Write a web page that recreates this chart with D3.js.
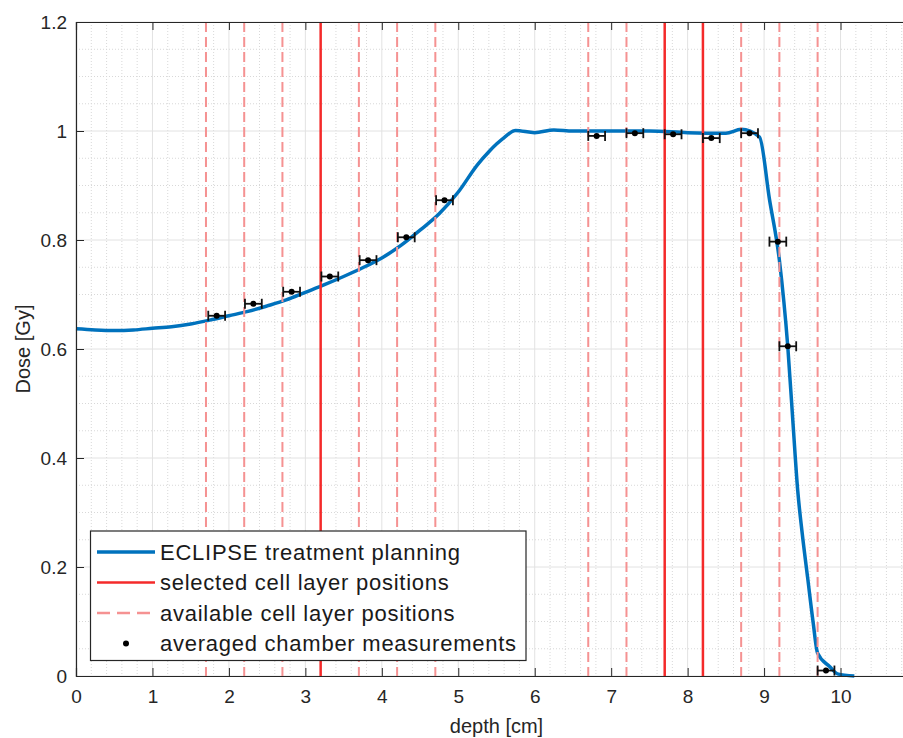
<!DOCTYPE html>
<html>
<head>
<meta charset="utf-8">
<script src="https://cdn.jsdelivr.net/npm/d3@7"></script>
<style>
  html, body { margin: 0; padding: 0; background: #fff; }
  svg { display: block; font-family: "Liberation Sans", Arial, Helvetica, sans-serif; }
</style>
</head>
<body>
<div id="chart"></div>
<script>
// ECLIPSE depth dose curve (depth in cm, dose in Gy)
const curveDepth = [0, 0.25, 0.5, 0.75, 1.0, 1.25, 1.5, 1.75, 2.0, 2.25, 2.5, 2.75, 3.0, 3.25, 3.5, 3.75,
  4.0, 4.25, 4.5, 4.75, 5.0, 5.25, 5.4, 5.5, 5.6, 5.75, 6.0, 6.25, 6.5, 7.0, 7.5, 8.0, 8.5, 8.7, 8.94,
  9.07, 9.2, 9.31, 9.38, 9.44, 9.5, 9.57, 9.64, 9.7, 9.86, 9.96, 10.18];
const curveDose = [0.637, 0.635, 0.634, 0.635, 0.638, 0.641, 0.646, 0.653, 0.661, 0.669, 0.679, 0.690,
  0.704, 0.718, 0.733, 0.749, 0.767, 0.790, 0.818, 0.848, 0.888, 0.938, 0.962, 0.976, 0.988, 1.001,
  0.997, 1.002, 1.0, 1.0, 1.0, 0.997, 0.996, 1.003, 0.989, 0.875, 0.763, 0.604, 0.46, 0.34, 0.26,
  0.18, 0.10, 0.042, 0.017, 0.004, 0.0];

// cell layer positions
const selectedLayers = [3.2, 7.7, 8.2];
const availableLayers = [1.7, 2.2, 2.7, 3.7, 4.2, 4.7, 6.7, 7.2, 8.7, 9.2, 9.7];

// averaged chamber measurements, horizontal error +-measErr
const measDepth = [1.84, 2.32, 2.82, 3.32, 3.82, 4.32, 4.82, 6.81, 7.31, 7.81, 8.31, 8.81, 9.18, 9.31, 9.81];
const measDose = [0.661, 0.683, 0.705, 0.733, 0.763, 0.805, 0.873, 0.991, 0.996, 0.994, 0.987, 0.996, 0.797, 0.605, 0.01];
const measErr = 0.11;

const xTicks = [0, 1, 2, 3, 4, 5, 6, 7, 8, 9, 10];
const yTicks = [0, 0.2, 0.4, 0.6, 0.8, 1, 1.2];

const legendLabels = ["ECLIPSE treatment planning", "selected cell layer positions",
  "available cell layer positions", "averaged chamber measurements"];

const w = 903;
const h = 738;
const pLeft = 76, pTop = 22, pRight = 917, pBottom = 676;
const axisColor = "#262626";
const blue = "#0072BD";
const red = "#f42a2a";
const lightRed = "#f59292";

const x = d3.scaleLinear().domain([0, 11]).range([pLeft, pRight]);
const y = d3.scaleLinear().domain([0, 1.2]).range([pBottom, pTop]);

const svg = d3.select("#chart").append("svg").attr("width", w).attr("height", h);

// grid: minor dotted, major solid
const xMinor = d3.range(0, 11.001, 0.2).filter((v) => Math.abs(v - Math.round(v)) > 1e-6);
const yMinor = d3.range(0, 1.2001, 0.05).filter((v) => Math.abs(v * 5 - Math.round(v * 5)) > 1e-6);

const grid = svg.append("g");
grid.selectAll(".xminor").data(xMinor).enter().append("line")
  .attr("x1", (d) => x(d)).attr("x2", (d) => x(d)).attr("y1", pTop).attr("y2", pBottom)
  .attr("stroke", "#d8d8d8").attr("stroke-width", 1).attr("stroke-dasharray", "1,2");
grid.selectAll(".yminor").data(yMinor).enter().append("line")
  .attr("x1", pLeft).attr("x2", pRight).attr("y1", (d) => y(d)).attr("y2", (d) => y(d))
  .attr("stroke", "#d8d8d8").attr("stroke-width", 1).attr("stroke-dasharray", "1,2");
grid.selectAll(".xmajor").data(xTicks.concat([11])).enter().append("line")
  .attr("x1", (d) => x(d)).attr("x2", (d) => x(d)).attr("y1", pTop).attr("y2", pBottom)
  .attr("stroke", "#e2e2e2").attr("stroke-width", 1);
grid.selectAll(".ymajor").data(yTicks).enter().append("line")
  .attr("x1", pLeft).attr("x2", pRight).attr("y1", (d) => y(d)).attr("y2", (d) => y(d))
  .attr("stroke", "#e2e2e2").attr("stroke-width", 1);

// dose curve
const line = d3.line().x((d) => x(d)).y((d, i) => y(curveDose[i])).curve(d3.curveMonotoneX);
svg.append("path")
  .datum(curveDepth)
  .attr("d", line)
  .attr("fill", "none")
  .attr("stroke", blue)
  .attr("stroke-width", 3.5)
  .attr("stroke-linejoin", "round");

// cell layer lines
svg.selectAll(".avail").data(availableLayers).enter().append("line")
  .attr("x1", (d) => x(d)).attr("x2", (d) => x(d)).attr("y1", y(1.2)).attr("y2", y(0))
  .attr("stroke", lightRed).attr("stroke-width", 2).attr("stroke-dasharray", "10,5");
svg.selectAll(".sel").data(selectedLayers).enter().append("line")
  .attr("x1", (d) => x(d)).attr("x2", (d) => x(d)).attr("y1", y(1.2)).attr("y2", y(0))
  .attr("stroke", red).attr("stroke-width", 2.5);

// measurements with horizontal error bars
const meas = svg.append("g").selectAll("g").data(measDepth).enter().append("g");
meas.append("line")
  .attr("x1", (d) => x(d - measErr)).attr("x2", (d) => x(d + measErr))
  .attr("y1", (d, i) => y(measDose[i])).attr("y2", (d, i) => y(measDose[i]))
  .attr("stroke", "#111").attr("stroke-width", 1.8);
[-1, 1].forEach((s) => {
  meas.append("line")
    .attr("x1", (d) => x(d + s * measErr)).attr("x2", (d) => x(d + s * measErr))
    .attr("y1", (d, i) => y(measDose[i]) - 5).attr("y2", (d, i) => y(measDose[i]) + 5)
    .attr("stroke", "#111").attr("stroke-width", 1.8);
});
meas.append("circle")
  .attr("cx", (d) => x(d)).attr("cy", (d, i) => y(measDose[i])).attr("r", 3)
  .attr("fill", "#000");

// axes box with inward ticks
const fontSize = 19;
const xAxis = d3.axisBottom(x).tickValues(xTicks).tickSize(-8).tickPadding(14).tickFormat(d3.format("d"));
const yAxis = d3.axisLeft(y).tickValues(yTicks).tickSize(-8).tickPadding(9).tickFormat((d) => d3.format("")(d));
const xAxisTop = d3.axisTop(x).tickValues(xTicks).tickSize(-8).tickFormat("");

function styleAxis(g) {
  g.select(".domain").attr("stroke", axisColor).attr("stroke-width", 1.2);
  g.selectAll(".tick line").attr("stroke", axisColor).attr("stroke-width", 1);
  g.selectAll("text").attr("fill", axisColor).style("font-size", fontSize + "px")
    .style("font-family", "'Liberation Sans', Arial, sans-serif");
}

svg.append("g").attr("transform", `translate(0,${pBottom})`).call(xAxis).call(styleAxis);
svg.append("g").attr("transform", `translate(${pLeft},0)`).call(yAxis).call(styleAxis);
svg.append("g").attr("transform", `translate(0,${pTop})`).call(xAxisTop).call(styleAxis);

svg.append("text")
  .attr("x", (pLeft + pRight) / 2).attr("y", 733)
  .attr("text-anchor", "middle")
  .attr("fill", axisColor).style("font-size", "20px")
  .text("depth [cm]");

svg.append("text")
  .attr("transform", `translate(30,${(pTop + pBottom) / 2}) rotate(-90)`)
  .attr("text-anchor", "middle")
  .attr("fill", axisColor).style("font-size", "20px")
  .text("Dose [Gy]");

// legend
const lg = svg.append("g");
lg.append("rect")
  .attr("x", 90.5).attr("y", 531).attr("width", 435.5).attr("height", 129.5)
  .attr("fill", "#fff").attr("stroke", axisColor).attr("stroke-width", 1.2);
const rowY = [552, 582.5, 613, 643.5];
lg.append("line").attr("x1", 97).attr("x2", 155).attr("y1", rowY[0]).attr("y2", rowY[0])
  .attr("stroke", blue).attr("stroke-width", 3.5);
lg.append("line").attr("x1", 97).attr("x2", 155).attr("y1", rowY[1]).attr("y2", rowY[1])
  .attr("stroke", red).attr("stroke-width", 2.5);
lg.append("line").attr("x1", 97).attr("x2", 155).attr("y1", rowY[2]).attr("y2", rowY[2])
  .attr("stroke", lightRed).attr("stroke-width", 2.5).attr("stroke-dasharray", "13,7");
lg.append("circle").attr("cx", 126).attr("cy", rowY[3]).attr("r", 3).attr("fill", "#000");
lg.selectAll("text").data(legendLabels).enter().append("text")
  .attr("x", 160).attr("y", (d, i) => rowY[i])
  .attr("dy", "0.36em")
  .attr("fill", "#1a1a1a")
  .style("font-size", "22px")
  .style("letter-spacing", "0.75px")
  .text((d) => d);
</script>
</body>
</html>
